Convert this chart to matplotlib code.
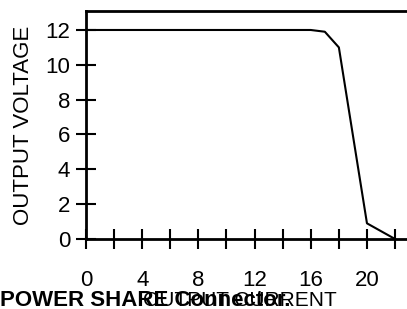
import matplotlib
matplotlib.use("Agg")
import matplotlib.pyplot as plt

plt.rcParams['font.family'] = ['Liberation Sans', 'DejaVu Sans']

# output current (A) vs output voltage (V)
current = [0, 16, 17, 18, 20, 22]
voltage = [12, 12, 11.9, 11.0, 0.9, 0.0]

x_ticks = list(range(0, 23, 2))
x_labels = ['0', '', '4', '', '8', '', '12', '', '16', '', '20', '']
y_ticks = [0, 2, 4, 6, 8, 10, 12]

fig = plt.figure(figsize=(4.07, 3.09), dpi=100)
ax = fig.add_axes([86/407, 1 - 239/309, 1 - 86/407, (239 - 11)/309])

ax.plot(current, voltage, color='black', lw=1.5)

ax.set_xlim(0, 22.85)
ax.set_ylim(0, 13.09)
ax.set_xticks(x_ticks)
ax.set_xticklabels(x_labels)
ax.set_yticks(y_ticks)

for s in ['left', 'bottom', 'top']:
    ax.spines[s].set_linewidth(2)
ax.spines['right'].set_visible(False)

ax.tick_params(axis='x', direction='inout', length=15, width=1.5, pad=15, labelsize=16)
ax.tick_params(axis='y', direction='inout', length=15, width=1.5, pad=4, labelsize=16)

ax.set_ylabel('OUTPUT VOLTAGE', fontsize=16, labelpad=8)
ax.set_xlabel('OUTPUT CURRENT', fontsize=15)
ax.xaxis.set_label_coords((240 - 86) / 321, -0.228)

fig.text(0.0, 1 - 306/309, 'POWER SHARE Connector.', fontsize=16, fontweight='bold',
         ha='left', va='baseline')

fig.savefig('out.png', dpi=100)
